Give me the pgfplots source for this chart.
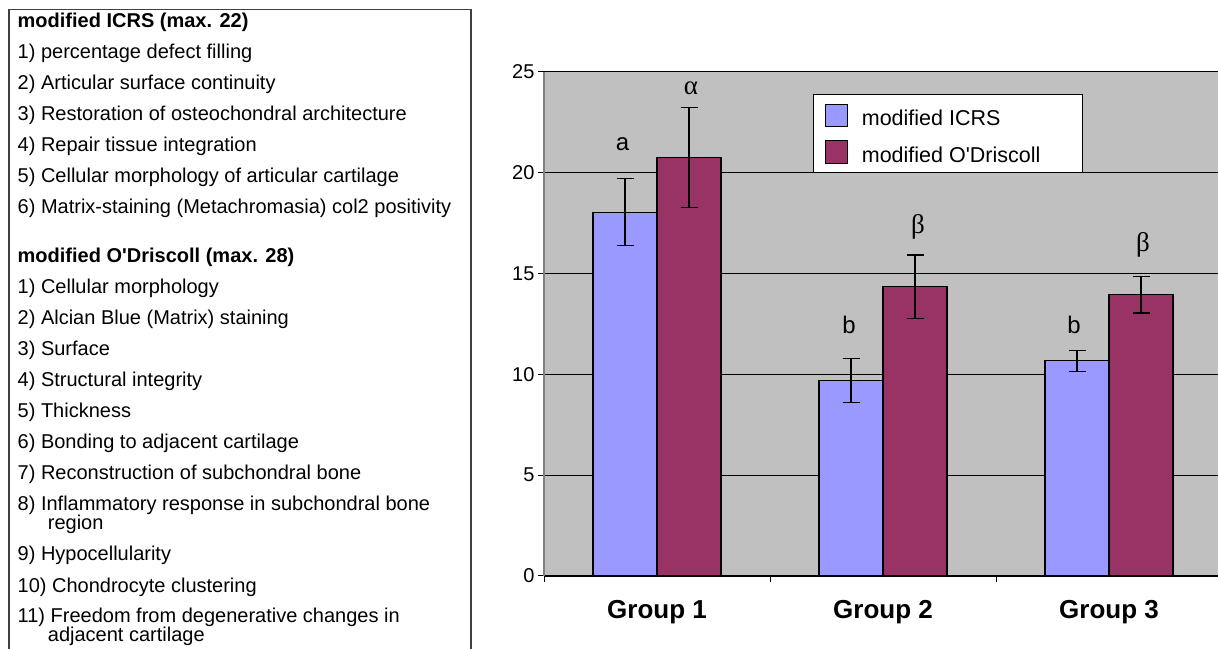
\documentclass[border=0pt]{standalone}
\usepackage{fontspec}
\setmainfont{Liberation Sans}
\newfontfamily\serifgr{Liberation Serif}
\usepackage{pgfplots}
\pgfplotsset{compat=1.18}
\definecolor{icrs}{RGB}{153,153,255}
\definecolor{odris}{RGB}{153,51,102}
\definecolor{plotbg}{RGB}{192,192,192}

\begin{document}
\begin{tikzpicture}[
  item/.style={anchor=base west, inner sep=0pt, font=\fontsize{20}{24}\selectfont},
  head/.style={anchor=base west, inner sep=0pt, font=\fontsize{20}{24}\selectfont\bfseries},
  sig/.style={anchor=base, inner sep=0pt, font=\fontsize{24}{28}\selectfont},
  gr/.style={anchor=base, inner sep=0pt, font=\fontsize{27}{30}\selectfont\serifgr}]
\path[use as bounding box] (0pt,0pt) rectangle (1218pt,648pt);

% score panel on the left
\draw[line width=1.2pt, black!75] (9pt,638.7pt) rectangle (471pt,-20pt);
\node[head] at (17.5pt,620.7pt) {modified ICRS (max. 22)};
\node[item] at (17.5pt,589.5pt) {1) percentage defect filling};
\node[item] at (17.5pt,558.5pt) {2) Articular surface continuity};
\node[item] at (17.5pt,527.5pt) {3) Restoration of osteochondral architecture};
\node[item] at (17.5pt,496.5pt) {4) Repair tissue integration};
\node[item] at (17.5pt,465.5pt) {5) Cellular morphology of articular cartilage};
\node[item] at (17.5pt,434.5pt) {6) Matrix-staining (Metachromasia) col2 positivity};
\node[head] at (17.5pt,385.3pt) {modified O\textquotesingle Driscoll (max. 28)};
\node[item] at (17.5pt,354.7pt) {1) Cellular morphology};
\node[item] at (17.5pt,323.7pt) {2) Alcian Blue (Matrix) staining};
\node[item] at (17.5pt,292.7pt) {3) Surface};
\node[item] at (17.5pt,261.7pt) {4) Structural integrity};
\node[item] at (17.5pt,230.7pt) {5) Thickness};
\node[item] at (17.5pt,199.7pt) {6) Bonding to adjacent cartilage};
\node[item] at (17.5pt,168.7pt) {7) Reconstruction of subchondral bone};
\node[item] at (17.5pt,137.7pt) {8) Inflammatory response in subchondral bone};
\node[item] at (47.7pt,118.7pt) {region};
\node[item] at (17.5pt,87pt) {9) Hypocellularity};
\node[item] at (17.5pt,56pt) {10) Chondrocyte clustering};
\node[item] at (17.5pt,25.3pt) {11) Freedom from degenerative changes in};
\node[item] at (47.7pt,7pt) {adjacent cartilage};

\begin{axis}[
  at={(544pt,72pt)}, anchor=south west,
  scale only axis, width=678pt, height=504pt,
  xmin=0, xmax=3, ymin=0, ymax=25,
  axis lines*=left,
  axis background/.style={fill=plotbg},
  x axis line style={black, line width=1.2pt},
  y axis line style={black!50, line width=2pt},
  ymajorgrids, major grid style={black, line width=1pt},
  ytick={0,5,10,15,20,25},
  xtick={0,1,2,3}, xticklabels={},
  tick align=outside, major tick length=6pt,
  tick style={black, line width=1pt},
  /pgf/number format/assume math mode=true,
  yticklabel style={font=\fontsize{20}{22}\selectfont},
  extra x ticks={0.5,1.5,2.5},
  extra x tick labels={Group 1,Group 2,Group 3},
  extra x tick style={major tick length=0pt,
    xticklabel style={font=\fontsize{26}{30}\selectfont\bfseries, yshift=-21pt}},
  ybar=0pt, bar width=64pt,
  legend style={at={(0.397,0.9563)}, anchor=north west,
    draw=black, line width=1pt, fill=white,
    inner xsep=11pt, inner ysep=9pt, row sep=13pt,
    nodes={inner sep=0pt},
    font=\fontsize{21.5}{24}\selectfont,
    /tikz/every odd column/.append style={column sep=14pt}},
  legend cell align=left,
  legend image code/.code={\draw[#1, draw=black, line width=1.2pt] (0pt,-8.2pt) rectangle (22pt,14.3pt);},
]
\addplot[fill=icrs, draw=black, line width=1.2pt,
  error bars/.cd, y dir=both, y explicit,
  error bar style={black, line width=1.3pt},
  error mark options={rotate=90, mark size=8.5pt, line width=1.3pt, black}]
  coordinates {(0.5,18.05) +- (0,1.66) (1.5,9.7) +- (0,1.1) (2.5,10.67) +- (0,0.53)};
\addlegendentry{\makebox[210pt][l]{modified ICRS}}
\addplot[fill=odris, draw=black, line width=1.2pt,
  error bars/.cd, y dir=both, y explicit,
  error bar style={black, line width=1.3pt},
  error mark options={rotate=90, mark size=8.5pt, line width=1.3pt, black}]
  coordinates {(0.5,20.76) +- (0,2.47) (1.5,14.35) +- (0,1.57) (2.5,13.95) +- (0,0.9)};
\addlegendentry{\makebox[210pt][l]{modified O\textquotesingle Driscoll}}

\node[sig] at (axis cs:0.348,21.1) {a};
\node[gr] at (axis cs:0.650,23.86) {α};
\node[sig] at (axis cs:1.350,12.04) {b};
\node[gr] at (axis cs:1.655,17.01) {β};
\node[sig] at (axis cs:2.345,12.04) {b};
\node[gr] at (axis cs:2.650,16.09) {β};
\end{axis}
\end{tikzpicture}
\end{document}
